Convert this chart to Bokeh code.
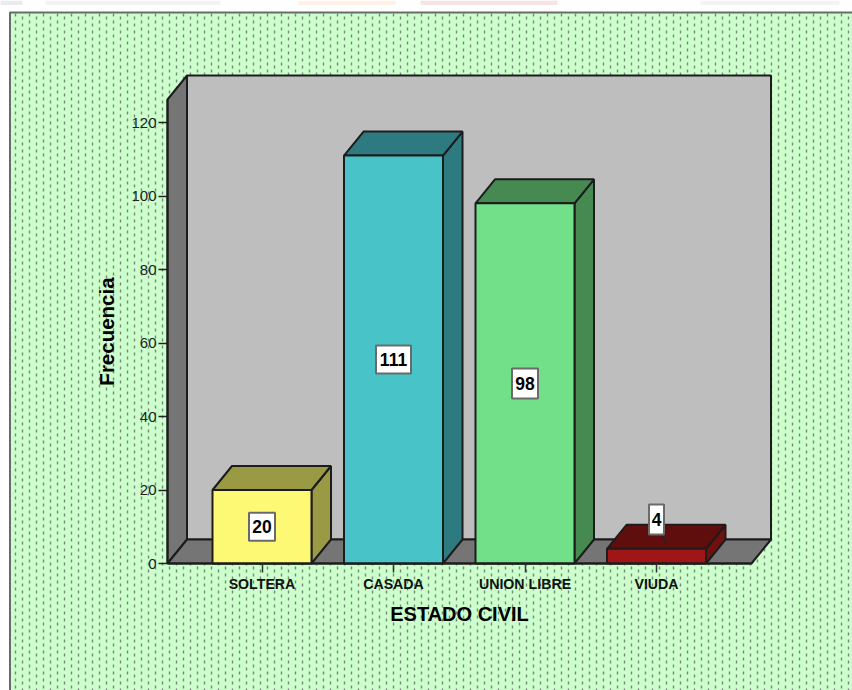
import numpy as np
from bokeh.core.properties import value
from bokeh.embed import file_html
from bokeh.models import FixedTicker
from bokeh.plotting import figure
from bokeh.resources import INLINE

# Frequencies by marital status
categories = ["SOLTERA", "CASADA", "UNION LIBRE", "VIUDA"]
counts = [20, 111, 98, 4]
y_ticks = [0, 20, 40, 60, 80, 100, 120]
y_title = "Frecuencia"
x_title = "ESTADO CIVIL"

front_colors = ["#fdf975", "#48c4c8", "#72e089", "#a01515"]
shade_colors = ["#9a9a45", "#2d7a80", "#468a52", "#600d0d"]
side_colors = ["#9a9a45", "#2d7a80", "#468a52", "#720f0f"]

WIDTH, HEIGHT = 852, 690

# Screen geometry of the pseudo-3D box
X0_PX, X_STEP_PX = 261.5, 131.5
Y0_PX, Y_STEP_PX = 563.0, 3.675
to_x = lambda px: (np.asarray(px, dtype=float) - X0_PX) / X_STEP_PX
to_y = lambda py: (Y0_PX - np.asarray(py, dtype=float)) / Y_STEP_PX

p = figure(
    width=WIDTH, height=HEIGHT, output_backend="svg", toolbar_location=None,
    x_range=(float(to_x(0)), float(to_x(WIDTH))),
    y_range=(float(to_y(HEIGHT)), float(to_y(0))),
    min_border=0, background_fill_color="white", border_fill_color="white",
    outline_line_color=None,
)
p.grid.visible = False

depth_x = float(19.5 / X_STEP_PX)
depth_y = float(24 / Y_STEP_PX)
half_bar = float(49.5 / X_STEP_PX)
edge = "#1c1c1c"

# Faint bands along the top of the page
band_left = [0, 45, 298, 420, 700]
band_right = [22, 220, 395, 557, 839]
band_colors = ["#ebebef", "#f3f3f6", "#fff1e6", "#f8e4e4", "#f3f3f6"]
p.quad(left=to_x(band_left), right=to_x(band_right), bottom=to_y(4.5), top=to_y(0),
       fill_color=band_colors, line_color=None)

# Panel with its dotted texture
p.quad(left=to_x(9.5), right=to_x(WIDTH + 2), bottom=to_y(HEIGHT + 2), top=to_y(12),
       fill_color="#ccffcc", line_color="#6a6a6a", line_width=2)
columns = np.arange(15, WIDTH + 4, 7.0)
for phase, offset in ((0, 0), (1, 4)):
    xs = to_x(columns[phase::2])
    p.segment(x0=xs, x1=xs, y0=float(to_y(13)), y1=float(to_y(HEIGHT)),
              line_color="#76867a", line_width=1.4, line_dash="3 4",
              line_dash_offset=offset)

# Walls and floor of the box
left_x = float(to_x(167))
right_x = float(to_x(751))
top_v = float(to_y(99))
p.patch([left_x + depth_x, right_x + depth_x, right_x + depth_x, left_x + depth_x],
        [depth_y, depth_y, top_v + depth_y, top_v + depth_y],
        fill_color="#bebebe", line_color=edge, line_width=2)
p.patch([left_x, left_x + depth_x, left_x + depth_x, left_x],
        [0, depth_y, top_v + depth_y, top_v],
        fill_color="#757575", line_color=edge, line_width=2)
p.patch([left_x, left_x + depth_x, right_x + depth_x, right_x],
        [0, depth_y, depth_y, 0],
        fill_color="#757575", line_color=edge, line_width=2)

# Bars: side and top faces derive from each count, then the front face
for i, v in enumerate(counts):
    l, r = i - half_bar, i + half_bar
    p.patch([r, r + depth_x, r + depth_x, r], [0, depth_y, v + depth_y, v],
            fill_color=side_colors[i], line_color=edge, line_width=2)
    p.patch([l, l + depth_x, r + depth_x, r], [v, v + depth_y, v + depth_y, v],
            fill_color=shade_colors[i], line_color=edge, line_width=2)
    p.quad(left=l, right=r, bottom=0, top=v,
           fill_color=front_colors[i], line_color=edge, line_width=2)

# Value tags: centred in the bar, lifted with a leader when the bar is too short
positions = list(range(len(counts)))
tag_y = [v / 2 if v > 10 else v + 8 for v in counts]
tag_w = [26 if v < 100 else 35 for v in counts]
tag_w[-1] = 15
for i, v in enumerate(counts):
    if v <= 10:
        p.segment(x0=i + 0.03, y0=tag_y[i] - 4, x1=i + 0.075, y1=v / 2 + 3.5,
                  line_color="#222222", line_width=1.5)
p.rect(x=positions, y=tag_y, width=tag_w, height=[28, 28, 30, 30],
       width_units="screen", height_units="screen",
       fill_color="white", line_color="#6a6a6a", line_width=2)
p.text(x=positions, y=tag_y, text=[str(v) for v in counts],
       text_font=value("Liberation Sans"), text_font_style="bold",
       text_font_size="17.5px", text_color="black",
       text_align="center", text_baseline="middle")

# Axes pinned to the front edges of the box
yaxis = p.yaxis[0]
yaxis.fixed_location = left_x
yaxis.ticker = FixedTicker(ticks=y_ticks)
yaxis.bounds = (0, top_v)
yaxis.axis_line_color = edge
yaxis.axis_line_width = 2
yaxis.major_tick_line_color = "#222222"
yaxis.major_tick_line_width = 1.5
yaxis.major_tick_in = 0
yaxis.major_tick_out = 9
yaxis.minor_tick_line_color = None
yaxis.major_label_standoff = 2
yaxis.major_label_text_font = "Liberation Sans"
yaxis.major_label_text_font_size = "15px"
yaxis.major_label_text_color = "#222222"
yaxis.axis_label = y_title
yaxis.axis_label_text_font = "Liberation Sans"
yaxis.axis_label_text_font_size = "20.5px"
yaxis.axis_label_text_font_style = "bold"
yaxis.axis_label_text_color = "black"
yaxis.axis_label_standoff = 10

xaxis = p.xaxis[0]
xaxis.fixed_location = 0
xaxis.ticker = FixedTicker(ticks=positions)
xaxis.major_label_overrides = {i: c for i, c in enumerate(categories)}
xaxis.bounds = (left_x, right_x)
xaxis.axis_line_color = edge
xaxis.axis_line_width = 2
xaxis.major_tick_line_color = "#333333"
xaxis.major_tick_line_width = 1.5
xaxis.major_tick_in = 0
xaxis.major_tick_out = 9
xaxis.minor_tick_line_color = None
xaxis.major_label_standoff = 3
xaxis.major_label_text_font = "Liberation Sans"
xaxis.major_label_text_font_size = "14.2px"
xaxis.major_label_text_font_style = "bold"
xaxis.major_label_text_color = "#111111"
xaxis.axis_label = x_title
xaxis.axis_label_text_font = "Liberation Sans"
xaxis.axis_label_text_font_size = "20px"
xaxis.axis_label_text_font_style = "bold"
xaxis.axis_label_text_color = "black"
xaxis.axis_label_standoff = 8

open("out.html", "w").write(file_html(p, INLINE))
